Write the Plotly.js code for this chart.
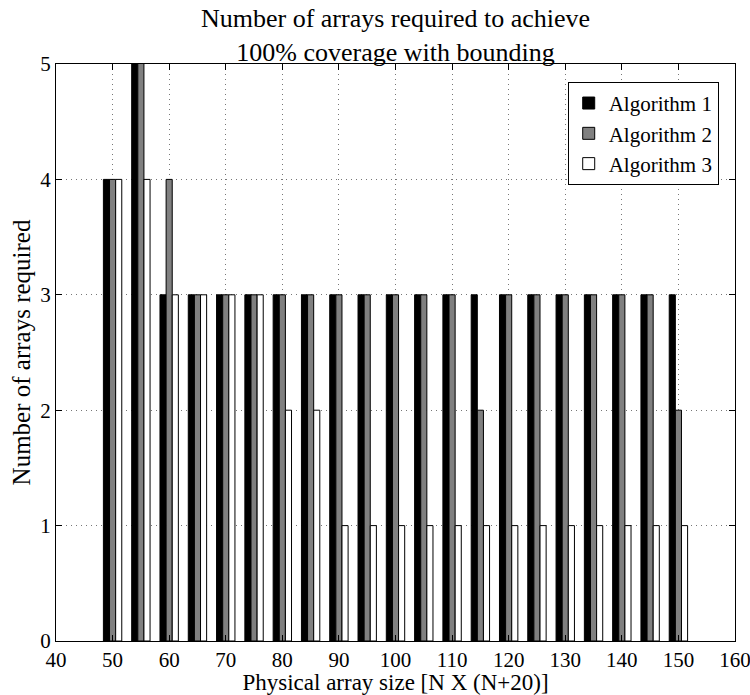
<!DOCTYPE html>
<html><head><meta charset="utf-8">
<script src="https://cdn.plot.ly/plotly-3.0.1.min.js"></script>
<style>body{margin:0;background:#fff}</style>
</head><body>
<div id="chart" style="width:750px;height:695px"></div>
<script>
const sizes = [50,55,60,65,70,75,80,85,90,95,100,105,110,115,120,125,130,135,140,145,150];
const alg1 = [4,6,3,3,3,3,3,3,3,3,3,3,3,3,3,3,3,3,3,3,3];
const alg2 = [4,6,4,3,3,3,3,3,3,3,3,3,3,2,3,3,3,3,3,3,2];
const alg3 = [4,4,3,3,3,3,2,2,1,1,1,1,1,1,1,1,1,1,1,1,1];
const names = ['Algorithm 1','Algorithm 2','Algorithm 3'];
const colors = ['#000000','#808080','#ffffff'];
const series = [alg1, alg2, alg3];
const traces = series.map((v,i)=>({
  type:'bar', x:sizes, y:v, name:names[i],
  marker:{color:colors[i], line:{color:'#000', width:1}},
  width:1.08
}));
const font = {family:'"Liberation Serif", "Times New Roman", serif', color:'#000'};
const f = s => Object.assign({size:s}, font);
const layout = {
  width:750, height:695,
  margin:{l:56, r:15, t:64, b:54},
  paper_bgcolor:'#fff', plot_bgcolor:'#fff',
  font:f(22),
  barmode:'group', bargap:0.35, bargroupgap:0,
  title:{text:'Number of arrays required to achieve<br>100% coverage with bounding',
         font:f(26), x:0.5, xref:'paper', xanchor:'center', y:1-27/695, yref:'container', yanchor:'bottom', pad:{b:0,t:0}},
  xaxis:{range:[40,160], tickvals:[40,50,60,70,80,90,100,110,120,130,140,150,160],
         ticks:'inside', ticklen:6, tickcolor:'#000', showline:true, linecolor:'#000', linewidth:1,
         mirror:'ticks', showgrid:true, gridcolor:'#777', griddash:'1px,4px', gridwidth:1, zeroline:false,
         tickfont:f(21), ticklabelstandoff:0, ticklabeloverflow:'allow',
         title:{text:'Physical array size [N X (N+20)]', font:f(23), standoff:2}},
  yaxis:{range:[0,5], tickvals:[0,1,2,3,4,5],
         ticks:'inside', ticklen:6, tickcolor:'#000', showline:true, linecolor:'#000', linewidth:1,
         mirror:'ticks', showgrid:true, gridcolor:'#777', griddash:'1px,4px', gridwidth:1, zeroline:false,
         tickfont:f(21), ticklabelstandoff:0,
         title:{text:'Number of arrays required', font:f(25), standoff:2}},
  legend:{x:0.976, y:0.969, xanchor:'right', yanchor:'top', bgcolor:'#fff',
          bordercolor:'#000', borderwidth:1, font:f(21),
          tracegroupgap:0, itemwidth:30}
};
Plotly.newPlot('chart', traces, layout, {displayModeBar:false, staticPlot:true});
</script>
</body></html>
